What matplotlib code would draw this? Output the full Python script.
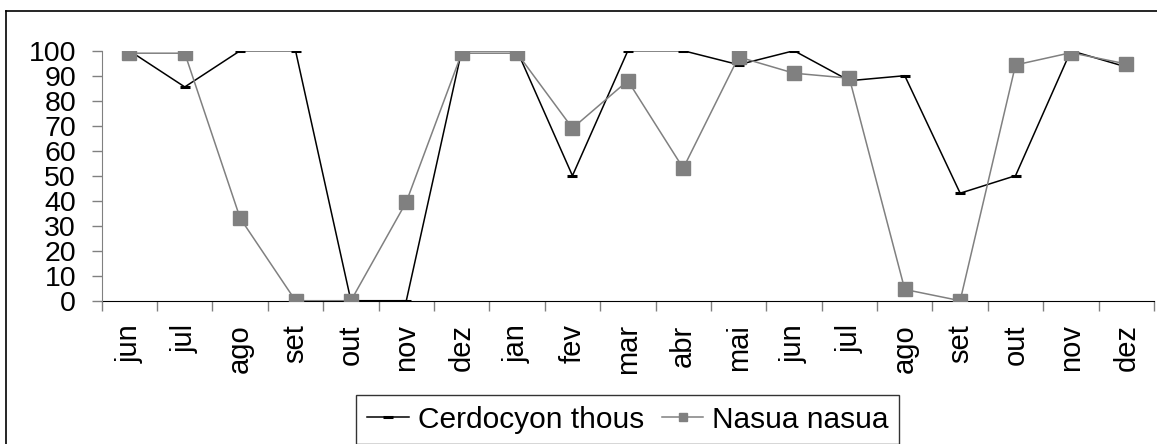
import matplotlib
matplotlib.use("Agg")
import matplotlib.pyplot as plt
from matplotlib.lines import Line2D
import numpy as np

plt.rcParams['font.family'] = ['Liberation Sans', 'DejaVu Sans']

# ---------------------------------------------------------------------------
# Data
# ---------------------------------------------------------------------------
months = ["jun", "jul", "ago", "set", "out", "nov", "dez", "jan", "fev", "mar",
          "abr", "mai", "jun", "jul", "ago", "set", "out", "nov", "dez"]
cerdocyon = [100, 85.5, 100, 100, 0, 0, 100, 100, 50, 100,
             100, 94.4, 100, 88, 90, 43, 50, 100, 93.5]
nasua = [99, 99, 33, 0, 0, 39.5, 99, 99, 69, 88,
         53, 97.5, 91, 89, 4.5, 0, 94.3, 99.2, 94.7]

W, H = 1157, 444
fig = plt.figure(figsize=(W / 100, H / 100), dpi=100)

# plot area in pixel coords
left, right, top, bottom = 101.7, 1154, 50.7, 300.7
ax = fig.add_axes([left / W, 1 - bottom / H, (right - left) / W, (bottom - top) / H])

x = np.arange(len(months))
ax.plot(x, cerdocyon, color="black", lw=1.1, marker="_", markersize=7,
        markeredgewidth=2.2, label="Cerdocyon thous", zorder=3)
ax.plot(x, nasua, color="#808080", lw=1.1, marker="s", markersize=10,
        markerfacecolor="#808080", markeredgecolor="#808080",
        label="Nasua nasua", zorder=4)

ax.set_xlim(-0.5, len(months) - 0.5)
ax.set_ylim(0, 100)

# y axis
ax.set_yticks(np.arange(0, 101, 10))
ax.tick_params(axis="y", direction="out", length=7.5, width=1, color="#808080",
               labelsize=20.5, pad=11)

# x axis: labels at centres, tick marks at boundaries
ax.set_xticks(x)
ax.set_xticklabels(months, rotation=90, va="top", ha="center")
ax.tick_params(axis="x", which="major", length=0, labelsize=21, pad=17)
ax.set_xticks(np.arange(-0.5, len(months)), minor=True)
ax.tick_params(axis="x", which="minor", direction="out", length=7.5, width=1,
               color="#808080")

for s in ("top", "right"):
    ax.spines[s].set_visible(False)
ax.spines["left"].set_color("#808080")
ax.spines["bottom"].set_color("black")
ax.spines["bottom"].set_zorder(2)

leg = fig.legend(loc="lower center", bbox_to_anchor=((left + right) / 2 / W, 0.0),
                 bbox_transform=fig.transFigure, ncol=2, fontsize=21.5,
                 frameon=True, fancybox=False, edgecolor="black",
                 handlelength=1.4, handletextpad=0.3, columnspacing=0.6,
                 borderpad=0.35, borderaxespad=0)
leg.get_frame().set_linewidth(1.0)
leg.legend_handles[1].set_markersize(6)

# outer chart border (only left and top edges show in the crop)
fig.add_artist(Line2D([6 / W, 6 / W], [0, 1 - 11 / H], color="black", lw=1.2,
                      transform=fig.transFigure))
fig.add_artist(Line2D([6 / W, 1], [1 - 11 / H, 1 - 11 / H], color="black", lw=1.2,
                      transform=fig.transFigure))

fig.savefig("out.png", dpi=100)
